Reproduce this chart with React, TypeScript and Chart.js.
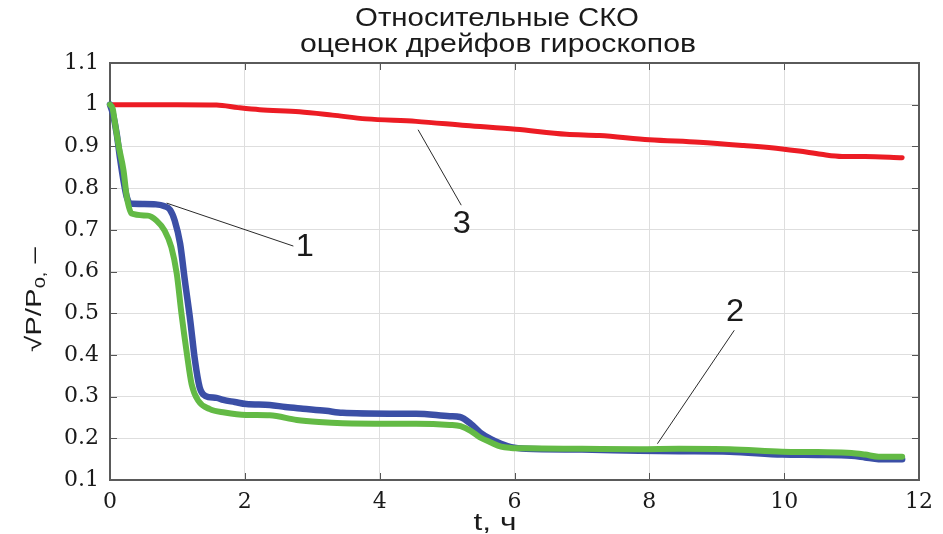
import React, { useEffect, useRef } from "react";
import { Chart, registerables } from "chart.js";

Chart.register(...registerables);

// ---- Text ----
const TITLE_LINES = ["Относительные СКО", "оценок дрейфов гироскопов"];
const X_TITLE = "t, ч";
const Y_TITLE_MAIN = "√P/P";
const Y_TITLE_SUB = "0,";
const Y_TITLE_TAIL = " –";

// ---- Axes ----
const X_MIN = 0;
const X_MAX = 12;
const X_STEP = 2;
const Y_MIN = 0.1;
const Y_MAX = 1.1;
const Y_STEP = 0.1;

// ---- Series (t in hours, relative RMS) ----
// curve 1 (blue)
const T_BLUE = [0, 0.04, 0.1, 0.15, 0.2, 0.25, 0.3, 0.5, 0.68, 0.8, 0.89, 0.96, 1.04, 1.11, 1.19, 1.26, 1.33, 1.41, 1.58, 1.68, 1.85, 2.02, 2.37, 2.6, 2.86, 3.2, 3.45, 4.15, 4.54, 5.04, 5.19, 5.35, 5.49, 5.65, 5.8, 5.95, 6.17, 7.0, 7.85, 8.44, 9.19, 9.97, 10.5, 11.0, 11.2, 11.4, 11.75];
const V_BLUE = [1.0, 0.98, 0.93, 0.87, 0.818, 0.778, 0.763, 0.762, 0.761, 0.757, 0.748, 0.722, 0.667, 0.579, 0.483, 0.387, 0.322, 0.302, 0.297, 0.292, 0.287, 0.282, 0.28, 0.275, 0.271, 0.266, 0.261, 0.259, 0.259, 0.253, 0.251, 0.235, 0.214, 0.198, 0.187, 0.179, 0.175, 0.173, 0.17, 0.169, 0.168, 0.161, 0.16, 0.158, 0.154, 0.15, 0.15];
// curve 2 (green)
const T_GREEN = [0, 0.04, 0.07, 0.13, 0.2, 0.25, 0.32, 0.56, 0.69, 0.81, 0.91, 0.99, 1.06, 1.14, 1.21, 1.31, 1.48, 1.7, 2.02, 2.37, 2.77, 3.1, 3.45, 4.15, 4.54, 5.04, 5.2, 5.35, 5.49, 5.65, 5.8, 5.95, 6.17, 7.0, 7.85, 8.44, 9.19, 9.97, 10.5, 11.0, 11.2, 11.4, 11.75];
const V_GREEN = [1.0, 0.99, 0.96, 0.9, 0.843, 0.778, 0.739, 0.734, 0.722, 0.698, 0.658, 0.595, 0.499, 0.403, 0.33, 0.29, 0.27, 0.262, 0.256, 0.255, 0.244, 0.239, 0.236, 0.235, 0.235, 0.232, 0.229, 0.218, 0.202, 0.19, 0.18, 0.177, 0.176, 0.175, 0.174, 0.175, 0.174, 0.168, 0.167, 0.165, 0.161, 0.156, 0.156];
// curve 3 (red)
const T_RED = [0, 0.5, 1.0, 1.58, 1.9, 2.22, 2.81, 3.3, 3.8, 4.54, 5.28, 6.02, 6.77, 7.26, 8.0, 8.74, 9.4, 9.97, 10.22, 10.55, 10.86, 11.2, 11.75];
const V_RED = [1.0, 1.0, 1.0, 0.999, 0.993, 0.988, 0.983, 0.975, 0.966, 0.96, 0.95, 0.941, 0.929, 0.926, 0.916, 0.91, 0.902, 0.894, 0.889, 0.881, 0.876, 0.876, 0.873];

// ---- Curve labels with leader lines (data coordinates) ----
const CALLOUT_TEXT = ["1", "2", "3"];
const CALLOUT_T = [2.89, 9.27, 5.22];
const CALLOUT_V = [0.6625, 0.508, 0.718];
const LEADER_FROM_T = [0.84, 8.12, 4.57];
const LEADER_FROM_V = [0.764, 0.187, 0.94];
const LEADER_TO_T = [2.72, 9.26, 5.21];
const LEADER_TO_V = [0.661, 0.459, 0.759];

const RED = "#ec1c24";
const BLUE = "#3b4fa6";
const GREEN = "#63ba45";
const SANS = '"Liberation Sans", Arial, sans-serif';
const SERIF = '"DejaVu Serif", serif';

function toXY(ts: number[], vs: number[]) {
  return ts.map((t, i) => ({ x: t, y: vs[i] }));
}

function fitText(ctx: CanvasRenderingContext2D, text: string, cx: number, baseline: number, font: string, targetW: number) {
  ctx.save();
  ctx.font = font;
  const w = ctx.measureText(text).width;
  const sx = targetW / w;
  ctx.translate(cx, baseline);
  ctx.scale(sx, 1);
  ctx.textAlign = "center";
  ctx.textBaseline = "alphabetic";
  ctx.fillText(text, 0, 0);
  ctx.restore();
}

const framePlugin = {
  id: "frame",
  beforeDraw(chart: any) {
    const ctx = chart.ctx;
    ctx.save();
    ctx.fillStyle = "#ffffff";
    ctx.fillRect(0, 0, chart.width, chart.height);
    ctx.restore();
  },
  beforeDatasetsDraw(chart: any) {
    const { ctx, chartArea, scales } = chart;
    const { left, right, top, bottom } = chartArea;
    const x = scales.x;
    const y = scales.y;
    ctx.save();
    ctx.strokeStyle = "#555555";
    ctx.lineWidth = 1;
    ctx.beginPath();
    x.ticks.forEach((tk: any) => {
      const px = Math.round(x.getPixelForValue(tk.value)) + 0.5;
      ctx.moveTo(px, bottom);
      ctx.lineTo(px, bottom - 7);
      ctx.moveTo(px, top);
      ctx.lineTo(px, top + 7);
    });
    y.ticks.forEach((tk: any) => {
      const py = Math.round(y.getPixelForValue(tk.value)) + 0.5;
      ctx.moveTo(left, py);
      ctx.lineTo(left + 7, py);
      ctx.moveTo(right, py);
      ctx.lineTo(right - 7, py);
    });
    ctx.stroke();
    ctx.lineWidth = 2;
    ctx.strokeStyle = "#5a5a5a";
    ctx.strokeRect(left, top, right - left, bottom - top);
    ctx.restore();
  },
  afterDraw(chart: any) {
    const { ctx, scales } = chart;
    const x = scales.x;
    const y = scales.y;
    ctx.save();
    ctx.fillStyle = "#1a1a1a";
    // title
    fitText(ctx, TITLE_LINES[0], 497, 26, `25px ${SANS}`, 284);
    fitText(ctx, TITLE_LINES[1], 498, 52, `25px ${SANS}`, 396);
    // x title
    fitText(ctx, X_TITLE, 495, 530, `23px ${SANS}`, 43);

    // y title (rotated, with subscript)
    ctx.save();
    const mainFont = `22px ${SANS}`;
    const subFont = `15px ${SANS}`;
    ctx.font = mainFont;
    const w1 = ctx.measureText(Y_TITLE_MAIN).width;
    const w3 = ctx.measureText(Y_TITLE_TAIL).width;
    ctx.font = subFont;
    const w2 = ctx.measureText(Y_TITLE_SUB).width;
    const total = w1 + w2 + w3;
    const sx = 105 / total;
    ctx.translate(41, 299.5);
    ctx.rotate(-Math.PI / 2);
    ctx.scale(sx, 1);
    ctx.textAlign = "left";
    ctx.textBaseline = "alphabetic";
    let cx = -total / 2;
    ctx.font = mainFont;
    ctx.fillText(Y_TITLE_MAIN, cx, 0);
    cx += w1;
    ctx.font = subFont;
    ctx.fillText(Y_TITLE_SUB, cx, 4);
    cx += w2;
    ctx.font = mainFont;
    ctx.fillText(Y_TITLE_TAIL, cx, 0);
    ctx.restore();

    // callouts
    ctx.strokeStyle = "#2a2a2a";
    ctx.lineWidth = 1;
    for (let i = 0; i < CALLOUT_TEXT.length; i++) {
      ctx.beginPath();
      ctx.moveTo(x.getPixelForValue(LEADER_FROM_T[i]), y.getPixelForValue(LEADER_FROM_V[i]));
      ctx.lineTo(x.getPixelForValue(LEADER_TO_T[i]), y.getPixelForValue(LEADER_TO_V[i]));
      ctx.stroke();
      const px = x.getPixelForValue(CALLOUT_T[i]);
      const py = y.getPixelForValue(CALLOUT_V[i]);
      ctx.save();
      ctx.font = `31px ${SANS}`;
      ctx.translate(px, py + 11);
      ctx.scale(1.05, 1);
      ctx.textAlign = "center";
      ctx.textBaseline = "alphabetic";
      ctx.fillText(CALLOUT_TEXT[i], 0, 0);
      ctx.restore();
    }
    ctx.restore();
  },
};

export default function App() {
  const ref = useRef<HTMLCanvasElement | null>(null);

  useEffect(() => {
    const canvas = ref.current;
    if (!canvas) return;
    const lineCommon = {
      pointRadius: 0,
      pointHoverRadius: 0,
      fill: false,
      cubicInterpolationMode: "monotone" as const,
      borderCapStyle: "round" as const,
      borderJoinStyle: "round" as const,
      clip: false as any,
    };
    const chart = new Chart(canvas, {
      type: "line",
      data: {
        datasets: [
          { ...lineCommon, label: "2", data: toXY(T_GREEN, V_GREEN), borderColor: GREEN, borderWidth: 6 },
          { ...lineCommon, label: "1", data: toXY(T_BLUE, V_BLUE), borderColor: BLUE, borderWidth: 6.5 },
          { ...lineCommon, label: "3", data: toXY(T_RED, V_RED), borderColor: RED, borderWidth: 5 },
        ],
      },
      options: {
        responsive: false,
        animation: false,
        devicePixelRatio: 1,
        layout: { padding: { top: 63, right: 24, left: 0, bottom: 0 } },
        plugins: {
          legend: { display: false },
          title: { display: false },
          tooltip: { enabled: false },
        },
        scales: {
          x: {
            type: "linear",
            min: X_MIN,
            max: X_MAX,
            ticks: {
              stepSize: X_STEP,
              autoSkip: false,
              maxRotation: 0,
              padding: 9,
              color: "#1a1a1a",
              font: { family: SERIF, size: 22 },
            },
            grid: { color: "#dedede", lineWidth: 1, drawTicks: false },
            border: { display: false },
            afterFit: (s: any) => {
              s.height = 54;
            },
          },
          y: {
            type: "linear",
            min: Y_MIN,
            max: Y_MAX,
            ticks: {
              stepSize: Y_STEP,
              autoSkip: false,
              padding: 11,
              color: "#1a1a1a",
              font: { family: SERIF, size: 22 },
              callback: (v: any) => String(Math.round(Number(v) * 10) / 10),
            },
            grid: { color: "#dedede", lineWidth: 1, drawTicks: false },
            border: { display: false },
            afterFit: (s: any) => {
              s.width = 110;
            },
          },
        },
      },
      plugins: [framePlugin],
    });
    return () => chart.destroy();
  }, []);

  return (
    <div style={{ position: "fixed", left: 0, top: 0, width: 943, height: 534, background: "#fff" }}>
      <canvas ref={ref} width={943} height={534} style={{ display: "block", width: 943, height: 534 }} />
    </div>
  );
}
